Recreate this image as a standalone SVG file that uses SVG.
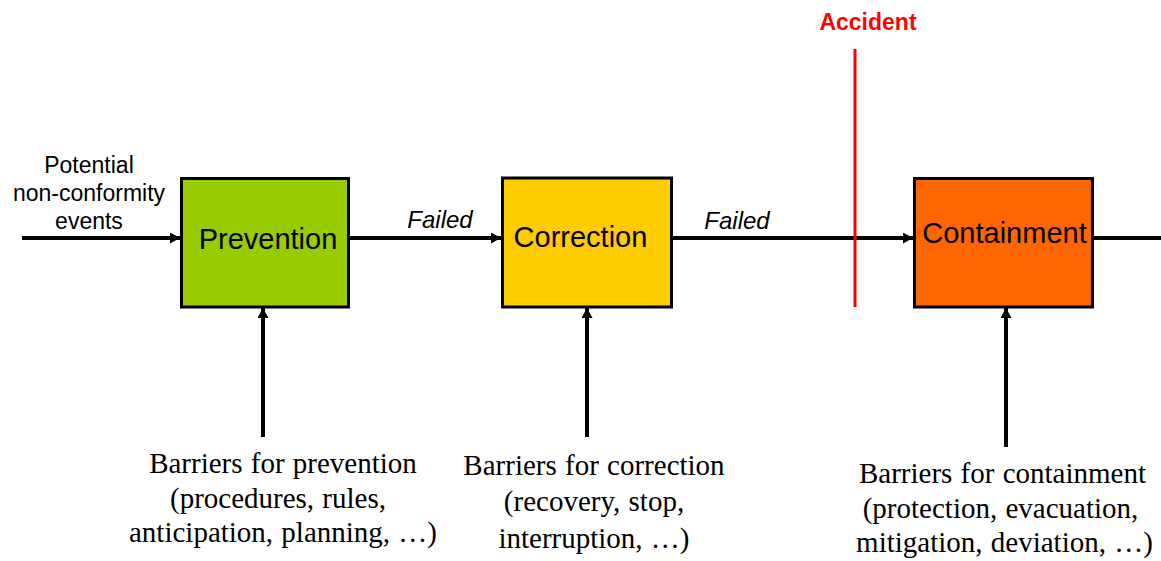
<svg xmlns="http://www.w3.org/2000/svg" width="1161" height="561" viewBox="0 0 1161 561">
  <style>
    .box { stroke: #000; stroke-width: 3; }
    .label { font-family: "Liberation Sans", Arial, sans-serif; fill: #000; text-anchor: middle; }
    .title { font-size: 29px; }
    .small { font-size: 23px; }
    .failed { font-size: 24px; font-style: italic; }
    .barrier { font-family: "Liberation Serif", "Times New Roman", serif; font-size: 29px; word-spacing: 1px; fill: #000; text-anchor: middle; }
    .flow { stroke: #000; stroke-width: 4; fill: none; }
    .accident { font-family: "Liberation Sans", Arial, sans-serif; font-size: 23px; font-weight: bold; fill: #FF0000; text-anchor: middle; }
  </style>
  <defs>
    <marker id="head" markerUnits="userSpaceOnUse" markerWidth="11" markerHeight="11" refX="10" refY="5.5" orient="auto">
      <path d="M0,0 L10,5.5 L0,11 Z" fill="#000"/>
    </marker>
  </defs>

  <rect width="1161" height="561" fill="#fff"/>

  <!-- flow connectors -->
  <g id="connectors">
    <path class="flow" d="M22,238 H180" marker-end="url(#head)"/>
    <path class="flow" d="M350,238 H501" marker-end="url(#head)"/>
    <path class="flow" d="M672,238 H913" marker-end="url(#head)"/>
    <path class="flow" d="M1094,238 H1161"/>
    <path class="flow" d="M263,437 V308" marker-end="url(#head)"/>
    <path class="flow" d="M587,437 V308" marker-end="url(#head)"/>
    <path class="flow" d="M1006,447 V308" marker-end="url(#head)"/>
  </g>

  <!-- accident threshold -->
  <g id="accident">
    <line x1="855" y1="49" x2="855" y2="307" stroke="#FF0000" stroke-width="3"/>
    <text class="accident" x="868" y="30">Accident</text>
  </g>

  <g id="input-label">
    <text class="label small" x="89" y="173">Potential</text>
    <text class="label small" x="89" y="201">non-conformity</text>
    <text class="label small" x="89" y="229">events</text>
  </g>

  <g id="failed-labels">
    <text class="label failed" x="440" y="228">Failed</text>
    <text class="label failed" x="737" y="229">Failed</text>
  </g>

  <g id="prevention">
    <rect class="box" x="181.5" y="178.5" width="167" height="128.5" fill="#99CC00"/>
    <text class="label title" x="268" y="249">Prevention</text>
  </g>

  <g id="correction">
    <rect class="box" x="502.5" y="178" width="169" height="129" fill="#FFCC00"/>
    <text class="label title" x="580.5" y="247">Correction</text>
  </g>

  <g id="containment">
    <rect class="box" x="914.5" y="178.5" width="178" height="128.5" fill="#FF6600"/>
    <text class="label title" x="1004.5" y="243">Containment</text>
  </g>

  <g id="barriers-prevention">
    <text class="barrier" x="283" y="473">Barriers for prevention</text>
    <text class="barrier" x="278" y="508">(procedures, rules,</text>
    <text class="barrier" x="283" y="542">anticipation, planning, …)</text>
  </g>

  <g id="barriers-correction">
    <text class="barrier" x="594" y="475">Barriers for correction</text>
    <text class="barrier" x="594" y="511">(recovery, stop,</text>
    <text class="barrier" x="594" y="548">interruption, …)</text>
  </g>

  <g id="barriers-containment">
    <text class="barrier" x="1002.5" y="483">Barriers for containment</text>
    <text class="barrier" x="1000.5" y="518">(protection, evacuation,</text>
    <text class="barrier" x="1004.5" y="552">mitigation, deviation, …)</text>
  </g>
</svg>
